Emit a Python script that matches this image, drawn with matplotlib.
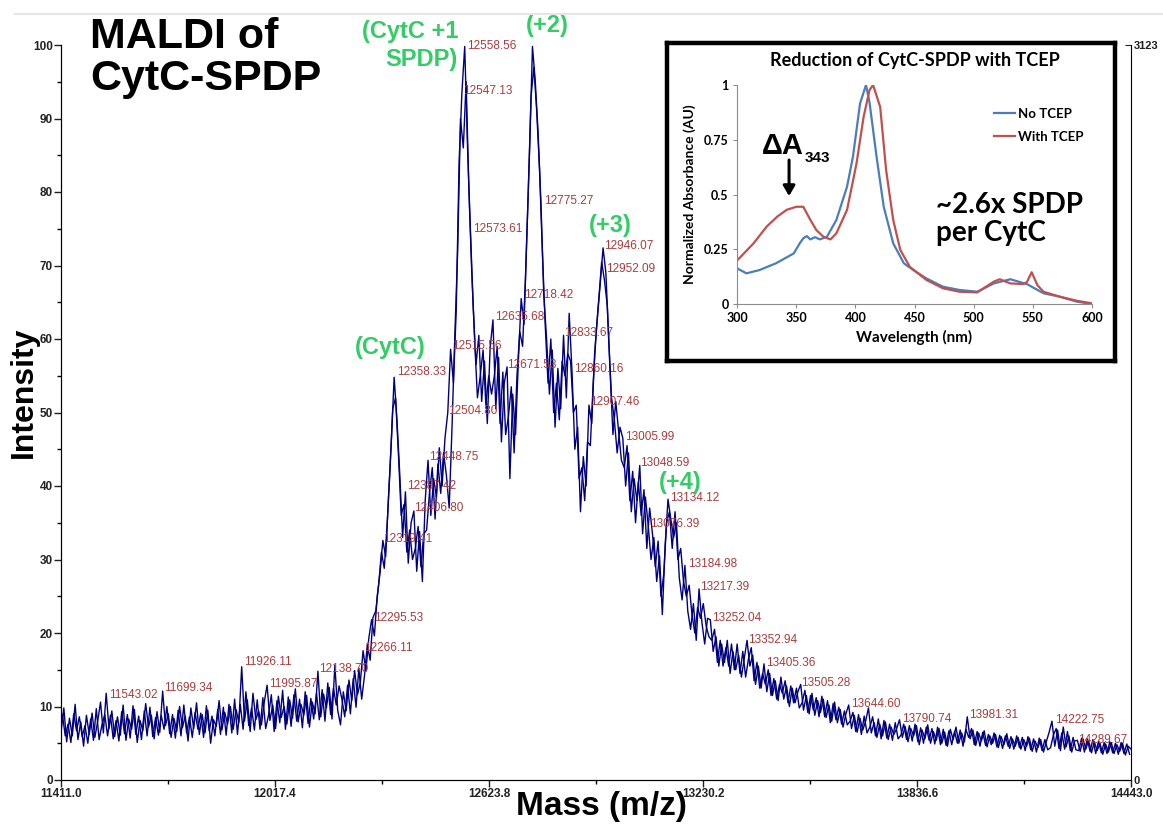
import matplotlib
matplotlib.use("Agg")
import matplotlib.pyplot as plt
from matplotlib.lines import Line2D
import numpy as np

plt.rcParams['font.family'] = ['Liberation Sans', 'DejaVu Sans']

# MALDI spectrum.
# intensity_a: every 8 Da from 11411 (10 points per row = 80 Da)
intensity_a = [
    6.5, 9.8, 5.2, 8.4, 6.0, 10.3, 5.5, 7.9, 4.6, 8.8,
    6.2, 9.1, 5.8, 8.0, 10.6, 6.4, 11.8, 7.0, 9.4, 5.9,
    8.6, 6.1, 10.2, 5.4, 8.3, 6.9, 9.6, 5.1, 8.1, 6.7,
    10.4, 7.2, 8.8, 5.6, 9.3, 6.5, 12.1, 7.4, 9.0, 5.8,
    8.4, 6.6, 10.0, 7.1, 8.7, 5.3, 9.8, 7.0, 10.5, 6.2,
    8.9, 6.4, 9.5, 5.0, 8.2, 7.3, 10.8, 6.8, 9.2, 7.6,
    10.0, 6.9, 9.6, 7.8, 15.4, 8.0, 10.9, 6.6, 11.8, 8.2,
    9.4, 7.5, 10.6, 12.9, 8.1, 10.2, 7.0, 11.4, 8.5, 10.0,
    7.6, 10.9, 8.4, 12.4, 7.9, 10.3, 8.8, 11.5, 7.2, 10.6,
    9.0, 14.8, 8.6, 11.7, 9.8, 12.6, 8.3, 15.6, 9.5, 7.5,
    12.0, 9.4, 13.6, 10.8, 14.9, 11.6, 13.2, 17.6, 14.8, 19.2,
    21.8, 19.6, 25.0, 28.2, 32.6, 30.4, 38.5, 46.0, 54.8, 49.0,
    41.5, 33.0, 39.2, 29.5, 35.0, 36.6, 28.4, 33.8, 27.0, 38.0,
    43.5, 36.0, 41.0, 38.5, 45.2, 40.0, 46.5, 50.0, 58.6, 54.0,
    64.0, 84.0, 93.5, 99.8, 86.0, 75.0, 64.5, 56.5, 60.5, 51.5,
    57.0, 48.5, 58.8, 62.6, 50.5, 57.5, 46.0, 54.0, 56.2, 41.0,
    52.5, 47.0, 57.0, 65.5, 62.0, 74.0, 86.0, 99.8, 95.0, 88.0,
    78.5, 66.0, 60.0, 52.5, 58.5, 48.0, 56.0, 50.5, 60.5, 52.0,
    63.5, 55.6, 45.0, 48.0, 36.5, 44.0, 40.0, 51.0, 48.5, 58.0,
    63.0, 67.5, 72.4, 69.0, 60.0, 52.0, 49.0, 44.5, 48.0, 46.5,
    40.0, 44.5, 36.5, 41.0, 38.0, 42.8, 33.5, 38.5, 34.6, 30.0,
    33.0, 27.0, 30.5, 22.5, 32.0, 38.2, 35.5, 33.0, 35.0, 27.5,
    24.5, 29.2, 23.0, 20.5, 24.0, 19.0, 26.0, 21.5, 18.5, 22.0,
    21.8, 17.5, 19.5, 15.5, 18.5, 16.0, 19.0, 14.5, 17.5, 15.0,
    17.0, 14.0, 16.5, 19.0, 15.5, 17.0, 13.0, 15.5, 12.5, 15.8,
    12.0, 14.5, 11.5, 13.5, 10.8, 14.0, 11.0, 12.8, 10.0, 12.5,
    10.5, 12.0, 13.0, 9.5, 11.5, 9.0, 11.8, 8.8, 10.8, 9.2,
    11.0, 8.5, 10.2, 8.0, 10.6, 7.8, 9.6, 7.2, 9.0, 10.2,
    7.0, 8.8, 6.5, 8.4, 6.8, 8.0, 9.8, 6.4, 7.8, 5.8,
    7.6, 6.0, 7.9, 5.5, 7.2, 6.2, 7.0, 8.2, 5.8, 7.3,
    5.2, 7.0, 6.0, 7.4, 4.8, 6.8, 5.6, 7.5, 5.0, 6.6,
    5.4, 7.0, 5.0, 6.5, 4.6, 6.9, 5.5, 7.2, 5.0, 6.4,
    5.2, 8.6, 5.6, 6.8, 4.7, 6.4, 5.3, 6.7, 4.5, 6.0,
    5.0, 6.2, 4.4, 5.9, 4.8, 6.3, 4.3, 5.6, 4.6, 5.8,
    4.2, 5.5, 4.6, 5.7, 3.9, 5.3, 4.4, 5.5, 3.8, 5.2,
    6.5, 8.0, 4.6, 6.8, 4.0, 7.2, 4.5, 6.0, 3.8, 5.3,
    5.4, 3.9, 5.6, 4.2, 5.4, 3.7, 5.2, 4.0, 5.0, 3.5,
    4.9, 3.8, 5.1, 3.6, 4.8, 3.9, 5.0, 3.4, 4.6, 4.2,
]
# intensity_b: the points in between, every 8 Da from 11415
intensity_b = [
    8.9, 6.0, 7.6, 5.1, 9.0, 6.7, 8.6, 5.9, 7.4, 5.0,
    8.3, 5.4, 9.7, 5.5, 7.5, 8.9, 6.0, 8.8, 5.6, 8.1,
    5.3, 9.3, 6.3, 8.9, 5.7, 10.1, 6.2, 8.7, 5.5, 9.4,
    6.0, 9.9, 5.9, 8.5, 6.1, 8.8, 6.9, 10.0, 6.3, 8.9,
    5.7, 9.5, 6.0, 10.2, 6.4, 8.6, 5.8, 9.2, 6.9, 9.1,
    5.8, 10.1, 6.7, 8.7, 6.0, 9.6, 6.2, 9.9, 6.1, 10.3,
    6.4, 11.0, 6.2, 10.3, 6.9, 12.0, 7.4, 9.8, 6.8, 10.9,
    6.9, 11.2, 7.0, 8.8, 11.6, 6.6, 10.8, 7.8, 12.2, 6.9,
    11.3, 7.3, 11.6, 8.0, 11.0, 7.1, 12.0, 7.7, 11.1, 8.3,
    11.8, 8.2, 12.3, 8.0, 13.2, 8.9, 12.5, 10.2, 12.8, 11.0,
    8.6, 12.9, 9.0, 13.8, 9.9, 15.2, 11.0, 14.2, 18.4, 16.3,
    22.1, 23.0, 26.5, 31.0, 28.8, 34.5, 42.0, 50.5, 52.0, 44.5,
    36.0, 37.5, 31.0, 34.0, 30.0, 31.5, 34.5, 29.0, 33.5, 34.0,
    39.0, 42.5, 35.5, 43.0, 39.0, 44.5, 41.5, 37.0, 48.0, 60.5,
    72.0, 90.0, 86.0, 95.0, 80.0, 69.0, 60.0, 52.0, 55.0, 58.5,
    51.0, 55.0, 52.5, 55.0, 59.0, 48.5, 55.5, 47.0, 49.5, 53.5,
    44.5, 55.0, 61.0, 59.0, 68.0, 80.0, 93.0, 97.0, 91.0, 83.0,
    72.0, 62.0, 54.0, 60.0, 50.0, 54.0, 49.0, 57.0, 55.0, 58.0,
    57.0, 50.0, 51.0, 41.0, 42.5, 38.0, 46.0, 45.5, 54.0, 60.5,
    65.5, 70.5, 68.0, 64.5, 55.5, 47.0, 51.5, 47.5, 43.5, 42.5,
    45.5, 38.0, 42.0, 35.0, 40.5, 36.0, 39.5, 31.5, 37.0, 33.5,
    29.0, 32.5, 25.0, 28.0, 35.0, 36.5, 31.5, 36.5, 30.0, 31.5,
    27.0, 25.0, 26.5, 22.5, 20.0, 23.5, 22.0, 24.0, 21.0, 19.5,
    19.0, 20.5, 16.0, 19.0, 15.5, 18.0, 15.5, 18.5, 15.0, 18.5,
    14.5, 17.5, 14.0, 16.5, 18.0, 13.5, 16.0, 12.5, 14.5, 13.0,
    15.0, 11.5, 13.8, 11.0, 13.0, 11.8, 13.5, 10.5, 12.8, 10.5,
    12.5, 9.8, 10.5, 12.2, 9.2, 11.5, 9.5, 11.2, 8.6, 11.4,
    8.6, 10.8, 7.8, 10.4, 8.2, 9.9, 7.6, 9.4, 7.5, 8.0,
    9.2, 6.6, 8.9, 6.2, 8.7, 6.4, 7.2, 8.6, 6.0, 8.3,
    5.6, 8.1, 5.7, 7.6, 5.4, 7.8, 5.6, 6.1, 7.6, 5.5,
    7.4, 5.3, 7.6, 5.2, 7.1, 5.0, 7.2, 5.4, 7.0, 4.9,
    7.2, 4.8, 6.9, 4.7, 6.7, 4.8, 6.6, 5.0, 6.8, 4.6,
    6.9, 5.8, 7.0, 4.8, 6.6, 4.6, 6.5, 4.7, 6.2, 4.8,
    6.4, 4.5, 6.1, 4.3, 6.0, 4.6, 5.9, 4.2, 6.0, 4.4,
    5.8, 4.0, 5.9, 4.1, 5.6, 3.8, 5.7, 4.0, 5.5, 4.1,
    4.4, 6.1, 7.0, 4.3, 6.4, 4.2, 6.6, 4.0, 5.8, 4.1,
    4.0, 5.7, 3.8, 5.6, 3.9, 5.5, 3.6, 5.3, 3.7, 5.1,
    3.6, 5.2, 3.7, 5.0, 3.5, 5.1, 3.6, 4.9, 3.5,
]
mass_a = 11411 + 8 * np.arange(len(intensity_a))
mass_b = 11415 + 8 * np.arange(len(intensity_b))

x_ticks = [11411.0, 12017.4, 12623.8, 13230.2, 13836.6, 14443.0]
y_ticks = [0, 10, 20, 30, 40, 50, 60, 70, 80, 90, 100]
right_max = 3123

peak_mass = [11543.02, 11699.34, 11926.11, 11995.87, 12138.70, 12266.11, 12295.53,
             12319.41, 12358.33, 12387.42, 12406.80, 12448.75, 12504.80, 12515.56,
             12547.13, 12558.56, 12573.61, 12635.68, 12671.53, 12718.42, 12750.91,
             12775.27, 12833.67, 12860.16, 12907.46, 12946.07, 12952.09, 13005.99,
             13048.59, 13076.39, 13134.12, 13184.98, 13217.39, 13252.04, 13352.94,
             13405.36, 13505.28, 13644.60, 13790.74, 13981.31, 14222.75, 14289.67]
peak_y = [11.6, 12.5, 16.1, 13.0, 15.1, 17.9, 22.1,
          32.8, 55.5, 40.0, 37.0, 43.9, 50.2, 59.0,
          93.7, 99.9, 75.0, 63.0, 56.5, 66.0, 100.3,
          78.8, 60.8, 55.9, 51.4, 72.7, 69.5, 46.7,
          43.1, 34.8, 38.4, 29.4, 26.3, 22.1, 19.1,
          15.9, 13.2, 10.3, 8.3, 8.8, 8.1, 5.4]

# green annotations: text, x (m/z), y (intensity)
green_text = ['(CytC +1\nSPDP)', '(+2)', '(+3)', '(CytC)', '(+4)']
green_x = [12536, 12790, 12967, 12343, 13165]
green_y = [99.9, 102.6, 75.4, 58.9, 40.5]

# inset: UV-vis spectra
blue_wl = [300, 308, 319, 333, 348, 353, 356, 359, 362, 366, 370, 376, 384, 393, 398,
           404, 409, 412, 418, 424, 432, 441, 449, 460, 474, 488, 503, 517, 531,
           545, 559, 573, 587, 600]
blue_abs = [0.163, 0.14, 0.155, 0.186, 0.231, 0.277, 0.30, 0.31, 0.295, 0.305, 0.295,
            0.307, 0.384, 0.536, 0.673, 0.916, 1.0, 0.92, 0.67, 0.444, 0.277, 0.186,
            0.155, 0.117, 0.079, 0.064, 0.056, 0.094, 0.113, 0.091, 0.049, 0.033,
            0.011, 0.0]
red_wl = [300, 314, 325, 334, 342, 350, 356, 362, 367, 373, 379, 384, 393, 401, 407,
          412, 415, 421, 426, 432, 438, 446, 460, 474, 488, 503, 517, 522, 531, 542,
          545, 549, 554, 559, 573, 587, 600]
red_abs = [0.198, 0.277, 0.353, 0.399, 0.43, 0.444, 0.444, 0.384, 0.338, 0.307, 0.295,
           0.323, 0.43, 0.642, 0.855, 0.977, 1.0, 0.90, 0.612, 0.384, 0.247, 0.17, 0.11,
           0.072, 0.056, 0.053, 0.102, 0.113, 0.094, 0.091, 0.10, 0.145, 0.085, 0.056,
           0.033, 0.015, 0.003]

W, H = 1163, 824
fig = plt.figure(figsize=(W / 100, H / 100), dpi=100)

# faint line at the top edge of the slide
fig.add_artist(Line2D([15 / W, 1], [1 - 14 / H, 1 - 14 / H], color='#e6e6e6', lw=1.5))

ax = fig.add_axes([61 / W, 1 - 780 / H, (1131 - 61) / W, (780 - 45) / H])
ax.plot(mass_a, intensity_a, color='#00007f', lw=1.0)
ax.plot(mass_b, intensity_b, color='#00007f', lw=1.0)
ax.set_xlim(x_ticks[0], x_ticks[-1])
ax.set_ylim(0, 100)
ax.spines['top'].set_visible(False)
ax.spines['right'].set_visible(False)
ax.set_xticks(x_ticks)
ax.set_xticklabels([f'{v:.1f}' for v in x_ticks])
ax.set_xticks([(a + b) / 2 for a, b in zip(x_ticks[:-1], x_ticks[1:])], minor=True)
ax.set_yticks(y_ticks)
ax.set_yticks([v + 5 for v in y_ticks[:-1]], minor=True)
ax.tick_params(which='major', length=5, width=1, labelsize=8.5, pad=1, colors='#222222')
ax.tick_params(which='minor', length=3, width=1)
for lab in ax.get_xticklabels() + ax.get_yticklabels():
    lab.set_fontweight('bold')

ax2 = ax.twinx()
ax2.set_ylim(0, right_max)
ax2.set_yticks([0, right_max])
ax2.tick_params(direction='in', length=4, labelsize=8, pad=2, colors='#222222')
for lab in ax2.get_yticklabels():
    lab.set_fontweight('bold')
ax2.spines['top'].set_visible(False)

fig.text(601 / W, 1 - 806 / H, 'Mass (m/z)', fontsize=24, fontweight='bold',
         ha='center', va='center')
fig.text(24 / W, 1 - 392 / H, 'Intensity', fontsize=23, fontweight='bold',
         ha='center', va='center', rotation=90)

for m, y in zip(peak_mass, peak_y):
    ax.annotate(f'{m:.2f}', (m, y), xytext=(1, 0), textcoords='offset points',
                ha='left', va='center', fontsize=8.5, color='#a83c3c')

for t, x, y in zip(green_text, green_x, green_y):
    ha = 'right' if t.startswith('(CytC +1') else 'center'
    ax.text(x, y, t, ha=ha, va='center', fontsize=17, fontweight='bold',
            color='#33cc66', linespacing=1.25, multialignment='right')

fig.text(90 / W, 1 - 17 / H, 'MALDI of\nCytC-SPDP', ha='left', va='top',
         fontsize=31, fontweight='bold', linespacing=1.05)

# inset frame
frame = fig.add_axes([667 / W, 1 - 361 / H, 448 / W, 318 / H])
frame.set_xticks([])
frame.set_yticks([])
for s in frame.spines.values():
    s.set_linewidth(3.2)
    s.set_color('black')
frame.set_facecolor('white')
frame.set_zorder(5)

inset_font = ['Lato', 'DejaVu Sans']
ins = fig.add_axes([737 / W, 1 - 304 / H, (1092 - 737) / W, (304 - 85) / H])
ins.set_zorder(6)
ins.patch.set_alpha(0)
ins.plot(blue_wl, blue_abs, color='#4a7ebb', lw=1.6, label='No TCEP')
ins.plot(red_wl, red_abs, color='#c0504d', lw=1.6, label='With TCEP')
ins.set_xlim(300, 600)
ins.set_ylim(0, 1)
ins.set_xticks([300, 350, 400, 450, 500, 550, 600])
ins.set_yticks([0, 0.25, 0.5, 0.75, 1])
ins.set_yticklabels(['0', '0.25', '0.5', '0.75', '1'])
ins.spines['top'].set_visible(False)
ins.spines['right'].set_visible(False)
ins.spines['left'].set_color('#8c8c8c')
ins.spines['bottom'].set_color('#8c8c8c')
ins.tick_params(length=3, color='#8c8c8c', labelsize=9, pad=3)
for lab in ins.get_xticklabels() + ins.get_yticklabels():
    lab.set_fontweight('bold')
    lab.set_family(inset_font)
ins.set_xlabel('Wavelength (nm)', fontsize=11, fontweight='bold', family=inset_font, labelpad=4)
ins.set_ylabel('Normalized Absorbance (AU)', fontsize=10, fontweight='bold',
               family=inset_font, labelpad=6)
ins.set_title('Reduction of CytC-SPDP with TCEP', fontsize=13, fontweight='bold',
              family=inset_font, pad=14)
ins.legend(loc='upper left', bbox_to_anchor=(0.69, 0.95), frameon=False,
           prop={'family': inset_font, 'weight': 'bold', 'size': 9.5},
           handlelength=1.6, handletextpad=0.2, labelspacing=0.85)

ins.text(321, 0.72, 'ΔA', fontsize=21, fontweight='bold', ha='left', va='center',
         family=['Liberation Sans', 'DejaVu Sans'])
ins.text(357, 0.665, '343', fontsize=11, fontweight='bold', ha='left', va='center',
         family=['Liberation Sans', 'DejaVu Sans'])
ins.annotate('', xy=(344, 0.48), xytext=(344, 0.67),
             arrowprops=dict(arrowstyle='-|>,head_width=0.35,head_length=0.6',
                             color='black', lw=2.2))
ins.text(468, 0.39, '~2.6x SPDP\nper CytC', fontsize=20, fontweight='bold', ha='left',
         va='center', family=inset_font, linespacing=1.1)

fig.savefig('out.png', dpi=100)
